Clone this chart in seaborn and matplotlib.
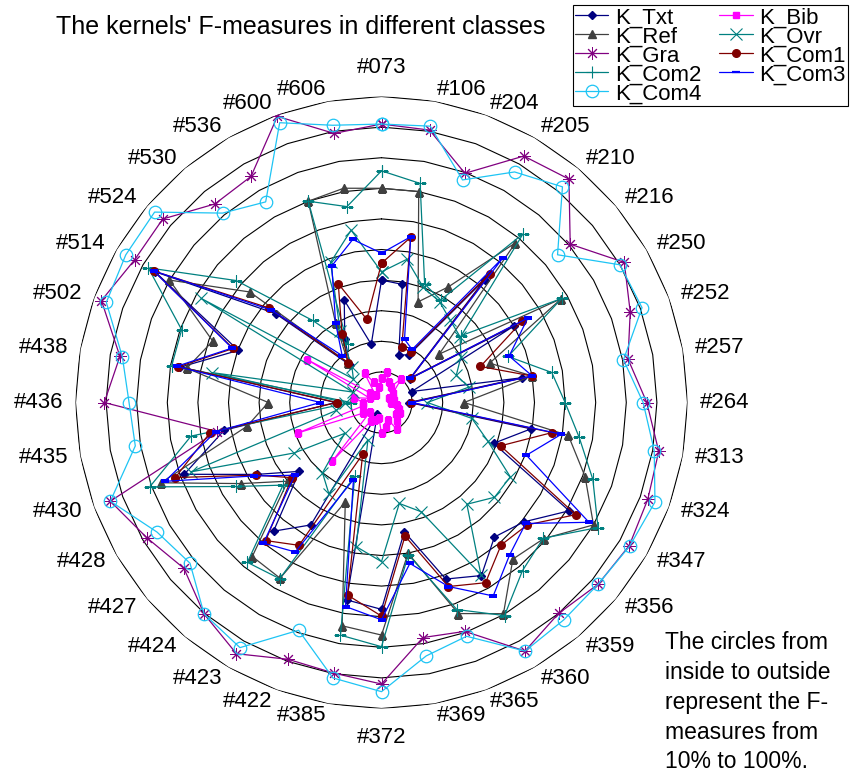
import numpy as np
import pandas as pd
import matplotlib
matplotlib.use("Agg")
import matplotlib.pyplot as plt
import seaborn as sns

categories = ["#073", "#106", "#204", "#205", "#210", "#216", "#250", "#252", "#257",
              "#264", "#313", "#324", "#347", "#356", "#359", "#360", "#365", "#369",
              "#372", "#385", "#422", "#423", "#424", "#427", "#428", "#430", "#435",
              "#436", "#438", "#502", "#514", "#524", "#530", "#536", "#600", "#606"]

k_txt = [0.40, 0.392, 0.165, 0.18, 0.524, 0.12, 0.50, 0.105, 0.466, 0.09, 0.496, 0.39,
         0.708, 0.607, 0.574, 0.653, 0.614, 0.429, 0.676, 0.655, 0.04, 0.462, 0.549, 0.35,
         0.47, 0.686, 0.522, 0.15, 0.667, 0.498, 0.855, 0.452, 0.16, 0.24, 0.356, 0.193]
k_ref = [0.70, 0.70, 0.35, 0.436, 0.681, 0.246, 0.679, 0.376, 0.50, 0.27, 0.62, 0.708,
         0.80, 0.692, 0.668, 0.797, 0.734, 0.50, 0.76, 0.741, 0.346, 0.663, 0.657, 0.40,
         0.53, 0.767, 0.446, 0.37, 0.646, 0.587, 0.80, 0.562, 0.17, 0.30, 0.70, 0.711]
k_gra = [0.91, 0.904, 0.797, 0.93, 0.953, 0.805, 0.916, 0.865, 0.818, 0.867, 0.92, 0.926,
         0.935, 0.924, 0.90, 0.938, 0.796, 0.78, 0.92, 0.898, 0.893, 0.948, 0.902, 0.843,
         0.885, 0.943, 0.546, 0.906, 0.868, 0.974, 0.932, 0.933, 0.847, 0.853, 0.995, 0.893]
k_com2 = [0.757, 0.727, 0.412, 0.387, 0.72, 0.34, 0.68, 0.44, 0.565, 0.60, 0.656, 0.735,
          0.817, 0.69, 0.717, 0.804, 0.72, 0.505, 0.798, 0.772, 0.256, 0.665, 0.682, 0.42,
          0.549, 0.806, 0.632, 0.10, 0.696, 0.695, 0.88, 0.62, 0.35, 0.22, 0.70, 0.65]
k_com4 = [0.91, 0.917, 0.774, 0.87, 0.92, 0.751, 0.90, 0.906, 0.803, 0.855, 0.905, 0.951,
          0.937, 0.924, 0.927, 0.938, 0.813, 0.841, 0.945, 0.914, 0.792, 0.925, 0.902, 0.817,
          0.847, 0.943, 0.817, 0.825, 0.86, 0.957, 0.965, 0.968, 0.808, 0.757, 0.973, 0.92]
k_bib = [0.08, 0.10, 0.07, 0.06, 0.10, 0.05, 0.03, 0.04, 0.04, 0.03, 0.05, 0.06,
         0.07, 0.06, 0.08, 0.10, 0.06, 0.08, 0.10, 0.05, 0.06, 0.07, 0.25, 0.05,
         0.07, 0.29, 0.06, 0.06, 0.09, 0.04, 0.28, 0.05, 0.03, 0.11, 0.07, 0.05]
k_ovr = [0.427, 0.475, 0.40, 0.38, 0.35, 0.335, 0.30, 0.26, 0.29, 0.15, 0.30, 0.37,
         0.486, 0.482, 0.434, 0.65, 0.38, 0.335, 0.52, 0.478, 0.13, 0.344, 0.30, 0.157,
         0.33, 0.663, 0.15, 0.12, 0.564, 0.10, 0.68, 0.12, 0.15, 0.27, 0.487, 0.572]
k_com1 = [0.455, 0.548, 0.194, 0.19, 0.55, 0.127, 0.53, 0.344, 0.499, 0.095, 0.566, 0.414,
          0.733, 0.622, 0.608, 0.68, 0.64, 0.443, 0.698, 0.639, 0.18, 0.539, 0.589, 0.382,
          0.475, 0.717, 0.569, 0.146, 0.674, 0.516, 0.859, 0.481, 0.169, 0.258, 0.413, 0.276]
k_com3 = [0.488, 0.55, 0.22, 0.20, 0.618, 0.123, 0.552, 0.444, 0.50, 0.10, 0.597, 0.504,
          0.783, 0.615, 0.651, 0.73, 0.64, 0.534, 0.71, 0.677, 0.268, 0.564, 0.60, 0.37,
          0.48, 0.753, 0.55, 0.20, 0.68, 0.52, 0.86, 0.47, 0.20, 0.30, 0.475, 0.541]

series_names = ["K_Txt", "K_Ref", "K_Gra", "K_Com2", "K_Com4",
                "K_Bib", "K_Ovr", "K_Com1", "K_Com3"]
series_values = [k_txt, k_ref, k_gra, k_com2, k_com4, k_bib, k_ovr, k_com1, k_com3]

styles = {
    "K_Txt":  dict(color="#000080", marker="D", markersize=4.5, mfc="#000080", mew=1.0),
    "K_Ref":  dict(color="#404040", marker="^", markersize=5.5, mfc="#404040", mew=1.0),
    "K_Gra":  dict(color="#800080", marker=(8, 2, 0), markersize=9, mfc="#800080", mew=0.7),
    "K_Com2": dict(color="#008080", marker="+", markersize=9, mfc="#008080", mew=0.8),
    "K_Com4": dict(color="#1EC4F4", marker="o", markersize=9, mfc="none", mew=0.9),
    "K_Bib":  dict(color="#FF00FF", marker="s", markersize=4.5, mfc="#FF00FF", mew=1.0),
    "K_Ovr":  dict(color="#008080", marker="x", markersize=8, mfc="#008080", mew=0.8),
    "K_Com1": dict(color="#800000", marker="o", markersize=5.5, mfc="#800000", mew=1.0),
    "K_Com3": dict(color="#0000FF", marker="_", markersize=6, mfc="#0000FF", mew=1.6),
}

sns.set_theme(style="white")
plt.rcParams["font.family"] = ["Liberation Sans", "DejaVu Sans"]
plt.rcParams["text.color"] = "black"

W, H = 850, 776
fig = plt.figure(figsize=(W / 100, H / 100), dpi=100)
cx, cy, R = 381.5, 402.5, 306.0
ax = fig.add_axes([(cx - R) / W, (H - cy - R) / H, 2 * R / W, 2 * R / H],
                  projection="polar")
ax.set_theta_zero_location("N")
ax.set_theta_direction(-1)
ax.set_ylim(0, 1)
ax.grid(False)
ax.set_xticks([])
ax.set_yticks([])
ax.spines["polar"].set_visible(False)
ax.set_facecolor("none")

n = len(categories)
theta = np.arange(n) * 2 * np.pi / n
theta_closed = np.append(theta, theta[0])

# polygonal rings 10% ... 100%
for k in range(1, 11):
    ax.plot(theta_closed, np.full(n + 1, k / 10), color="black", lw=0.8, zorder=1)

handles = []
for name, vals in zip(series_names, series_values):
    st = styles[name]
    df = pd.DataFrame({"theta": theta_closed, "value": np.append(vals, vals[0])})
    sns.lineplot(data=df, x="theta", y="value", ax=ax, sort=False, estimator=None,
                 color=st["color"], marker=st["marker"], markersize=st["markersize"],
                 markerfacecolor=st["mfc"], markeredgecolor=st["color"],
                 markeredgewidth=st["mew"], linewidth=0.9, zorder=3, legend=False)
    handles.append(ax.lines[-1])

ax.set_xlabel("")
ax.set_ylabel("")
ax.set_ylim(0, 1)

for t, lab in zip(theta, categories):
    s, c = np.sin(t), np.cos(t)
    if abs(s) < 1e-6:
        ax.text(t, 1.095, lab, ha="center", va="center", fontsize=16, color="black")
    else:
        ax.text(t, 1.04, lab, ha="left" if s > 0 else "right", va="center",
                fontsize=16, color="black")

fig.text(301 / W, 1 - 27 / H, "The kernels' F-measures in different classes",
         ha="center", va="center", fontsize=18, color="black")
fig.text(665 / W, 1 - 631 / H,
         "The circles from\ninside to outside\nrepresent the F-\nmeasures from\n10% to 100%.",
         ha="left", va="top", fontsize=16.5, linespacing=1.38, color="black")

leg = fig.legend(handles, series_names, ncol=2, loc="upper right",
                 bbox_to_anchor=(848 / W, 1 - 5 / H), fontsize=16,
                 frameon=True, fancybox=False, edgecolor="black", framealpha=1,
                 labelspacing=-0.09, handlelength=1.5, handletextpad=0.3,
                 columnspacing=0.8, borderpad=0.1, borderaxespad=0)
leg.get_frame().set_linewidth(0.8)
for txt in leg.get_texts():
    txt.set_color("black")

fig.savefig("out.png", dpi=100)
